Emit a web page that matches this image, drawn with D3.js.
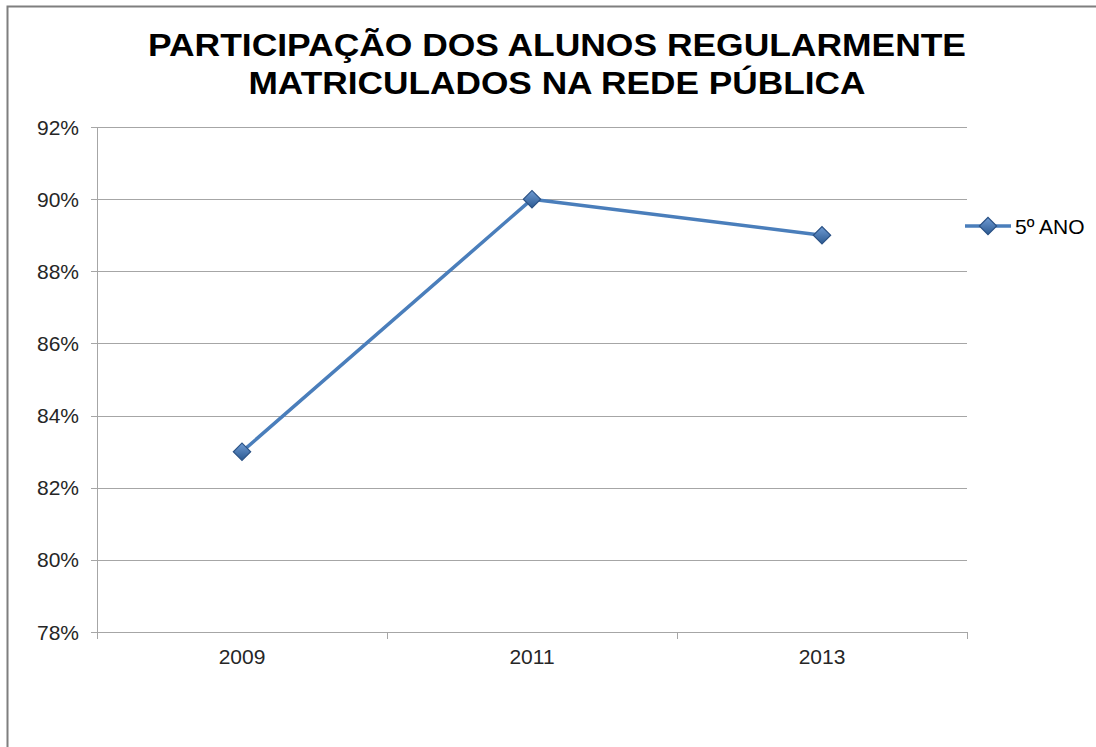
<!DOCTYPE html>
<html>
<head>
<meta charset="utf-8">
<script src="https://cdn.jsdelivr.net/npm/d3@7"></script>
<style>
  body { margin: 0; background: #fff; }
</style>
</head>
<body>
<script>
// data
const years = ["2009", "2011", "2013"];
const values = [0.83, 0.90, 0.89];
const yTicks = [0.78, 0.80, 0.82, 0.84, 0.86, 0.88, 0.90, 0.92];
const seriesName = "5º ANO";
const titleLines = ["PARTICIPAÇÃO DOS ALUNOS REGULARMENTE", "MATRICULADOS NA REDE PÚBLICA"];

let width = 1096,
  height = 747;

let margin = { top: 127, bottom: 115, left: 97, right: 129 };

let svg = d3.select('body')
  .append('svg')
    .attr('width', width)
    .attr('height', height)
    .style('display', 'block');

// outer frame (only top and left visible)
svg.append('path')
  .attr('d', `M7.5,${height} V6.5 H${width}`)
  .attr('fill', 'none')
  .attr('stroke', '#7f7f7f')
  .attr('stroke-width', 2);

let xScale = d3.scaleBand()
  .domain(years)
  .range([margin.left, width - margin.right]);

let yScale = d3.scaleLinear()
  .domain([0.78, 0.92])
  .range([height - margin.bottom, margin.top]);

// gridlines
svg.append('g')
  .selectAll('line')
  .data(yTicks)
  .enter()
  .append('line')
    .attr('x1', margin.left - 6)
    .attr('x2', width - margin.right)
    .attr('y1', d => Math.round(yScale(d)) + 0.5)
    .attr('y2', d => Math.round(yScale(d)) + 0.5)
    .attr('stroke', '#a6a6a6')
    .attr('stroke-width', 1);

// y axis line
svg.append('line')
  .attr('x1', margin.left + 0.5).attr('x2', margin.left + 0.5)
  .attr('y1', yScale(0.92)).attr('y2', yScale(0.78))
  .attr('stroke', '#a6a6a6');

// y labels
svg.append('g')
  .selectAll('text')
  .data(yTicks)
  .enter()
  .append('text')
    .attr('x', 79)
    .attr('y', d => yScale(d) + 7.5)
    .attr('text-anchor', 'end')
    .style('font-family', 'Liberation Sans, Arial, sans-serif')
    .style('font-size', '21px')
    .style('fill', '#262626')
    .text(d => d3.format('.0%')(d));

// x tick marks at band edges
let edges = years.map(d => xScale(d)).concat([xScale(years[years.length - 1]) + xScale.bandwidth()]);
svg.append('g')
  .selectAll('line')
  .data(edges)
  .enter()
  .append('line')
    .attr('x1', d => Math.round(d) + 0.5)
    .attr('x2', d => Math.round(d) + 0.5)
    .attr('y1', yScale(0.78))
    .attr('y2', yScale(0.78) + 7)
    .attr('stroke', '#a6a6a6');

// x labels
svg.append('g')
  .selectAll('text')
  .data(years)
  .enter()
  .append('text')
    .attr('x', d => xScale(d) + xScale.bandwidth() / 2)
    .attr('y', yScale(0.78) + 32)
    .attr('text-anchor', 'middle')
    .style('font-family', 'Liberation Sans, Arial, sans-serif')
    .style('font-size', '21px')
    .style('fill', '#262626')
    .text(d => d);

// title
svg.append('g')
  .selectAll('text')
  .data(titleLines)
  .enter()
  .append('text')
    .attr('x', 557)
    .attr('y', (d, i) => 56 + i * 38)
    .attr('text-anchor', 'middle')
    .attr('textLength', (d, i) => i === 0 ? 818 : 617)
    .attr('lengthAdjust', 'spacingAndGlyphs')
    .style('font-family', 'Liberation Sans, Arial, sans-serif')
    .style('font-weight', 'bold')
    .style('font-size', '32px')
    .style('fill', '#000')
    .text(d => d);

// line + markers
let points = years.map((d, i) => [xScale(d) + xScale.bandwidth() / 2, yScale(values[i])]);

let defs = svg.append('defs');
let grad = defs.append('linearGradient')
  .attr('id', 'mk')
  .attr('x1', 0).attr('y1', 0).attr('x2', 1).attr('y2', 1);
grad.append('stop').attr('offset', '0%').attr('stop-color', '#6f9bd3');
grad.append('stop').attr('offset', '100%').attr('stop-color', '#2c5a92');

svg.append('path')
  .datum(points)
  .attr('d', d3.line())
  .attr('fill', 'none')
  .attr('stroke', '#4a7ebb')
  .attr('stroke-width', 3.5)
  .attr('stroke-linejoin', 'round');

let marker = d3.symbol().type(d3.symbolSquare).size(150);

svg.append('g')
  .selectAll('path')
  .data(points)
  .enter()
  .append('path')
    .attr('d', marker)
    .attr('transform', d => `translate(${d[0]},${d[1]}) rotate(45)`)
    .attr('fill', 'url(#mk)')
    .attr('stroke', '#2b5285')
    .attr('stroke-width', 1.2);

// legend
let lg = svg.append('g').attr('transform', 'translate(965,226)');
lg.append('line')
  .attr('x1', 0).attr('x2', 46)
  .attr('stroke', '#4a7ebb')
  .attr('stroke-width', 3.5);
lg.append('path')
  .attr('d', marker)
  .attr('transform', 'translate(23,0) rotate(45)')
  .attr('fill', 'url(#mk)')
  .attr('stroke', '#2b5285')
  .attr('stroke-width', 1.2);
lg.append('text')
  .attr('x', 50)
  .attr('y', 8)
  .style('font-family', 'Liberation Sans, Arial, sans-serif')
  .style('font-size', '21px')
  .style('fill', '#000')
  .text(seriesName);
</script>
</body>
</html>
